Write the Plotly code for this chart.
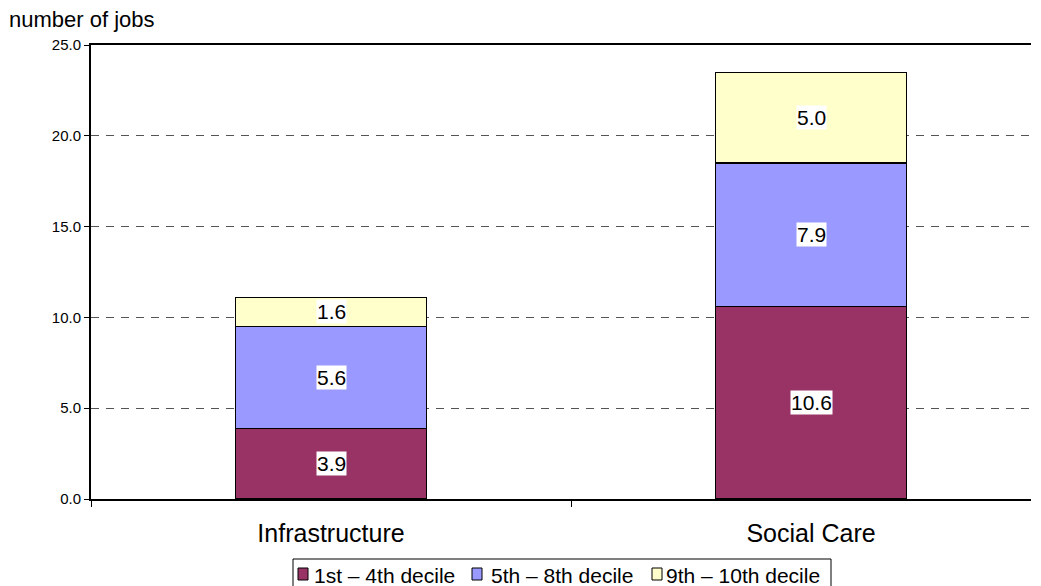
import plotly.graph_objects as go
import numpy as np

categories = ["Infrastructure", "Social Care"]
series_names = ["1st – 4th decile", "5th – 8th decile", "9th – 10th decile"]
decile_1_4 = [3.9, 10.6]
decile_5_8 = [5.6, 7.9]
decile_9_10 = [1.6, 5.0]
y_ticks = [0, 5, 10, 15, 20, 25]

series_values = [decile_1_4, decile_5_8, decile_9_10]
colors = ["#993366", "#9999FF", "#FFFFCC"]

FONT = "Liberation Sans, Arial"
OFF = 8  # default page body margin offsets the figure by 8px
W, H = 1041 - OFF, 586 - OFF
ML, MR, MT, MB = 91 - OFF, 10, 45 - OFF, 87
PW, PH = W - ML - MR, H - MT - MB
PLOT_LEFT_PAGE, PLOT_BOTTOM_PAGE = 91, 499
CAT_PX = 480  # pixel spacing between category centres (plot is cropped at right)


def px2paper(px, py):
    # page pixel -> paper coordinates
    return (px - PLOT_LEFT_PAGE) / PW, (PLOT_BOTTOM_PAGE - py) / PH


fig = go.Figure()
for name, vals, col in zip(series_names, series_values, colors):
    fig.add_trace(go.Bar(
        x=categories, y=vals, name=name,
        marker=dict(color=col, line=dict(color="black", width=1.2)),
        hoverinfo="skip", showlegend=False,
    ))

# data labels with white background at segment centres
base = np.zeros(len(categories))
for vals in series_values:
    v = np.array(vals)
    for i, cat in enumerate(categories):
        fig.add_annotation(
            x=cat, y=base[i] + v[i] / 2, text=f"{v[i]:.1f}",
            showarrow=False, bgcolor="white", borderpad=0,
            font=dict(family=FONT, size=21, color="black"),
        )
    base += v

# axis title
tx, ty = px2paper(7, 20)
fig.add_annotation(
    xref="paper", yref="paper", x=tx, y=ty,
    xanchor="left", yanchor="middle", showarrow=False,
    text="number of jobs",
    font=dict(family=FONT, size=22, color="black"),
)

# legend (box, swatches, labels)
bx0, by0 = px2paper(293, 559)
bx1, by1 = px2paper(831, 600)
fig.add_shape(type="rect", xref="paper", yref="paper",
              x0=bx0, y0=by0, x1=bx1, y1=by1,
              line=dict(color="black", width=1), fillcolor="white", layer="below")
swatch_left = [298, 472, 652]
text_left = [312, 489, 664]
for name, col, sl, tl in zip(series_names, colors, swatch_left, text_left):
    sx0, sy0 = px2paper(sl, 568)
    sx1, sy1 = px2paper(sl + 10, 580)
    fig.add_shape(type="rect", xref="paper", yref="paper",
                  x0=sx0, y0=sy0, x1=sx1, y1=sy1,
                  line=dict(color="black", width=1), fillcolor=col)
    lx, ly = px2paper(tl, 575)
    fig.add_annotation(
        xref="paper", yref="paper", x=lx, y=ly,
        xanchor="left", yanchor="middle", showarrow=False,
        text=name, font=dict(family=FONT, size=21, color="black"),
    )

fig.update_layout(
    barmode="stack",
    bargap=1 - 191 / CAT_PX,
    width=W, height=H,
    margin=dict(l=ML, r=MR, t=MT, b=MB, autoexpand=False),
    paper_bgcolor="white", plot_bgcolor="white",
    font=dict(family=FONT, color="black"),
    showlegend=False,
    xaxis=dict(
        range=[-0.5, -0.5 + PW / CAT_PX],
        showline=True, linecolor="black", linewidth=2, mirror=True,
        ticks="outside", tickson="boundaries", ticklen=6, tickcolor="black",
        tickfont=dict(size=25), ticklabelstandoff=11,
        showgrid=False, automargin=False,
    ),
    yaxis=dict(
        range=[0, 25], tickvals=y_ticks, tickformat=".1f",
        showline=True, linecolor="black", linewidth=2,
        ticks="outside", ticklen=5, tickcolor="black",
        tickfont=dict(size=15),
        showgrid=True, gridcolor="#555555", griddash="8px,7px", gridwidth=1,
        zeroline=False, automargin=False,
    ),
)

fig.write_html("out.html")
